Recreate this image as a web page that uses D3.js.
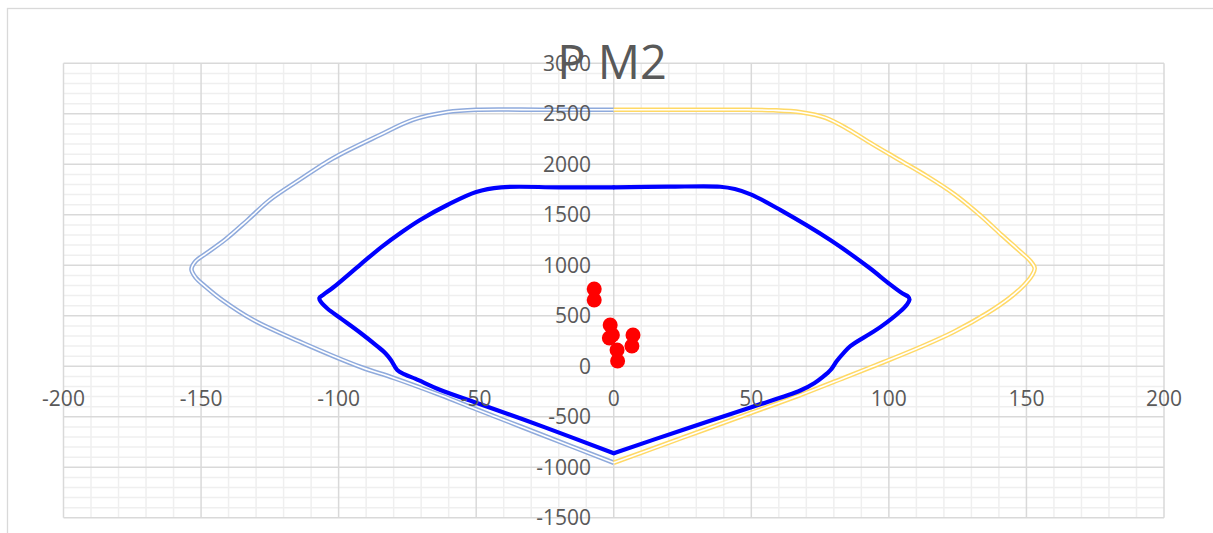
<!DOCTYPE html>
<html><head><meta charset="utf-8">
<script src="https://cdn.jsdelivr.net/npm/d3@7"></script>
<style>body{margin:0;background:#fff}svg{display:block}text{font-family:"Open Sans",sans-serif;fill:#595959}</style>
</head><body>
<script>
const title = "P M2";
const xTicks = [-200,-150,-100,-50,0,50,100,150,200];
const yTicks = [-1500,-1000,-500,0,500,1000,1500,2000,2500,3000];
// outer capacity (left half, negative M2) [M2, P]
const outerLeft = [[0,-955],[-25,-690],[-50,-425],[-63,-285],[-80,-115],[-92,-7],[-113,230],[-131,458],[-142,650],[-148,780],[-152,880],[-153.5,960],[-152,1040],[-148,1120],[-141,1260],[-133,1450],[-125,1647],[-114,1850],[-102,2060],[-85,2290],[-73,2440],[-60.5,2517],[-50,2540],[-25,2540],[0,2540]];
// outer capacity (right half, positive M2)
const outerRight = [[0,-955],[25,-707],[50,-460],[67.8,-284],[85,-100],[98,40],[111.5,191],[123.5,340],[135.8,527],[144,680],[149,800],[152,900],[153,970],[151.5,1040],[148,1130],[141,1300],[133,1500],[124,1700],[114,1880],[104,2040],[94,2200],[85,2350],[77,2460],[68,2515],[58,2535],[45,2540],[20,2540],[0,2540]];
// inner (design) curve, left half
const innerLeft = [[0,-860],[-25,-605],[-50,-360],[-63,-234],[-72,-125],[-76,-80],[-78.7,-37],[-81,63],[-83,130],[-86,200],[-92,330],[-99,470],[-104,570],[-106.5,640],[-107,675],[-105.5,710],[-102,780],[-92,1010],[-84,1190],[-77,1330],[-70.4,1449],[-60.5,1597],[-50,1726],[-41,1772],[-20,1772],[0,1772]];
// inner curve, right half
const innerRight = [[0,-860],[25,-630],[50,-405],[67.8,-240],[73,-165],[76,-105],[79,-30],[81,50],[83.5,130],[86,200],[93,320],[97,390],[104,540],[106.5,610],[107.5,660],[107,690],[105,720],[100,820],[93,973],[78.7,1250],[60.5,1548],[50,1700],[44,1755],[38.7,1778],[20,1778],[0,1772]];
// load points [M2, P]
const pointsM2 = [-7.1,-7.1,-1.3,-0.5,-1.6,1.2,1.4,7.0,6.6];
const pointsP  = [765,656,409,310,280,161,52,310,201];

const W=1213,H=533;
const svg=d3.select("body").append("svg").attr("width",W).attr("height",H);
svg.append("rect").attr("x",7.5).attr("y",8.5).attr("width",W+20).attr("height",H+20).attr("fill","#fff").attr("stroke","#d9d9d9").attr("stroke-width",1.3);

const x=d3.scaleLinear().domain([-200,200]).range([63.5,1164]);
const y=d3.scaleLinear().domain([-1500,3000]).range([517.8,63.3]);

const g=svg.append("g");
// minor grid
const xMinor=d3.range(-200,201,10).filter(v=>v%50!==0);
const yMinor=d3.range(-1500,3001,100).filter(v=>v%500!==0);
g.selectAll(".xm").data(xMinor).join("line").attr("x1",d=>x(d)).attr("x2",d=>x(d)).attr("y1",y(3000)).attr("y2",y(-1500)).attr("stroke","#efefef").attr("stroke-width",1.5);
g.selectAll(".ym").data(yMinor).join("line").attr("y1",d=>y(d)).attr("y2",d=>y(d)).attr("x1",x(-200)).attr("x2",x(200)).attr("stroke","#efefef").attr("stroke-width",1.5);
// major grid
g.selectAll(".xM").data(xTicks).join("line").attr("x1",d=>x(d)).attr("x2",d=>x(d)).attr("y1",y(3000)).attr("y2",y(-1500)).attr("stroke","#d9d9d9").attr("stroke-width",1.5);
g.selectAll(".yM").data(yTicks).join("line").attr("y1",d=>y(d)).attr("y2",d=>y(d)).attr("x1",x(-200)).attr("x2",x(200)).attr("stroke","#d9d9d9").attr("stroke-width",1.5);

const line=d3.line().x(d=>x(d[0])).y(d=>y(d[1])).curve(d3.curveCatmullRom.alpha(0.5));

function dbl(data,color){
  g.append("path").attr("d",line(data)).attr("fill","none").attr("stroke",color).attr("stroke-width",4.6).attr("stroke-linejoin","round");
  g.append("path").attr("d",line(data)).attr("fill","none").attr("stroke","#fff").attr("stroke-width",1.6).attr("stroke-linejoin","round");
}
dbl(outerLeft,"#8faadc");
dbl(outerRight,"#ffd966");

[innerLeft,innerRight].forEach(d=>{
  g.append("path").attr("d",line(d)).attr("fill","none").attr("stroke","#0000ff").attr("stroke-width",4.2).attr("stroke-linejoin","round").attr("stroke-linecap","round");
});

g.selectAll(".pt").data(pointsM2.map((m,i)=>[m,pointsP[i]])).join("circle")
 .attr("cx",d=>x(d[0])).attr("cy",d=>y(d[1])).attr("r",7.5).attr("fill","#ff0000");

// tick labels
svg.selectAll(".xl").data(xTicks).join("text").attr("x",d=>x(d)).attr("y",406).attr("text-anchor","middle").attr("font-size",21).text(d=>d);
svg.selectAll(".yl").data(yTicks).join("text").attr("x",591).attr("y",d=>y(d)+7.5).attr("text-anchor","end").attr("font-size",21).text(d=>d);

svg.append("text").attr("x",612).attr("y",79).attr("text-anchor","middle").attr("font-size",47).text(title);
</script>
</body></html>
